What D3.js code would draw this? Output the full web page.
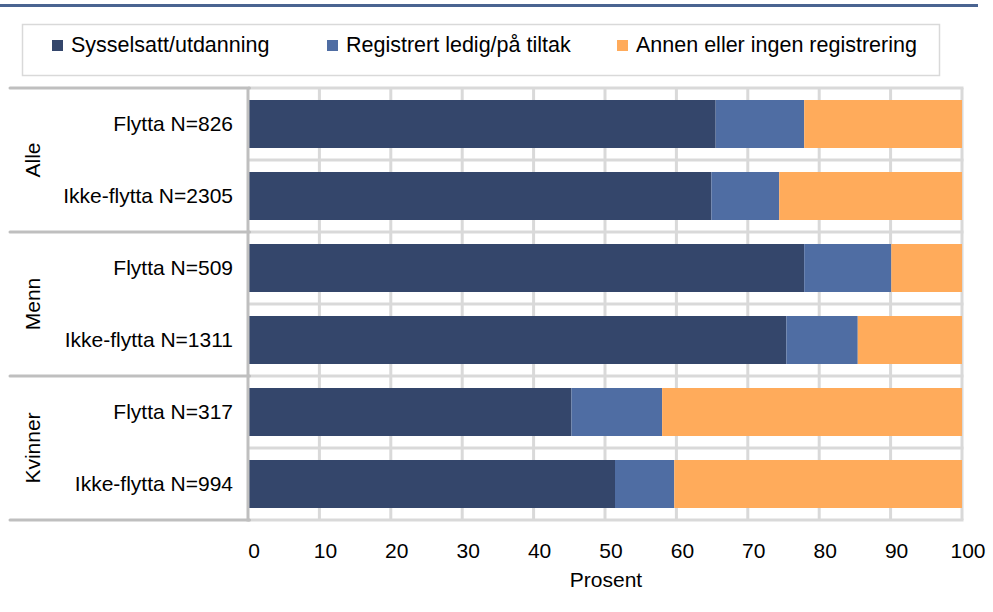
<!DOCTYPE html>
<html>
<head>
<meta charset="utf-8">
<script src="https://cdn.jsdelivr.net/npm/d3@7"></script>
<style>
body { margin: 0; background: #fff; }
text { font-family: "Liberation Sans", Arial, sans-serif; fill: #000; }
</style>
</head>
<body>
<script>
var groups = ["Alle", "Menn", "Kvinner"];
var labels = ["Flytta N=826", "Ikke-flytta N=2305", "Flytta N=509", "Ikke-flytta N=1311", "Flytta N=317", "Ikke-flytta N=994"];
var seriesNames = ["Sysselsatt/utdanning", "Registrert ledig/på tiltak", "Annen eller ingen registrering"];
var sysselsatt = [65.5, 64.9, 77.9, 75.4, 45.3, 51.4];
var ledig = [12.4, 9.5, 12.2, 10.0, 12.7, 8.3];
var annen = [22.1, 25.6, 9.9, 14.6, 42.0, 40.3];
var xTicks = [0, 10, 20, 30, 40, 50, 60, 70, 80, 90, 100];
var colors = ["#34466b", "#4f6da3", "#ffab5b"];

var width = 993, height = 612;
var svg = d3.select("body").append("svg")
	.attr("width", width)
	.attr("height", height);

// top rule
svg.append("rect")
	.attr("x", 0).attr("y", 4)
	.attr("width", 978).attr("height", 3)
	.attr("fill", "#4a6491");

// legend
svg.append("rect")
	.attr("x", 22.5).attr("y", 24.5)
	.attr("width", 917).attr("height", 51)
	.attr("fill", "#fff")
	.attr("stroke", "#d9d9d9")
	.attr("stroke-width", 1.5);

var legendX = [52, 327, 617];
seriesNames.forEach(function(name, i) {
	svg.append("rect")
		.attr("x", legendX[i]).attr("y", 40)
		.attr("width", 11).attr("height", 11)
		.attr("fill", colors[i]);
	svg.append("text")
		.attr("x", legendX[i] + 19).attr("y", 52)
		.attr("font-size", 21.5)
		.text(name);
});

var x = d3.scaleLinear().domain([0, 100]).range([248, 962]);
var y = d3.scaleBand().domain(labels).range([88, 520]).paddingInner(1/3).paddingOuter(1/6);
var yBand = d3.scaleBand().domain(labels).range([88, 520]);
var yGroup = d3.scaleBand().domain(groups).range([88, 520]);

// vertical gridlines
svg.selectAll("line.vgrid")
	.data(xTicks.slice(1))
	.enter().append("line")
		.attr("class", "vgrid")
		.attr("x1", function(d) { return x(d); })
		.attr("x2", function(d) { return x(d); })
		.attr("y1", 88).attr("y2", 520)
		.attr("stroke", "#d9d9d9")
		.attr("stroke-width", 3);

// horizontal gridlines at band edges
var edges = labels.map(function(d) { return yBand(d); }).concat([520]);
svg.selectAll("line.hgrid")
	.data(edges)
	.enter().append("line")
		.attr("class", "hgrid")
		.attr("x1", 248).attr("x2", 963.5)
		.attr("y1", function(d) { return d; })
		.attr("y2", function(d) { return d; })
		.attr("stroke", "#d9d9d9")
		.attr("stroke-width", 3);

// stacked bars
var rows = labels.map(function(l, i) {
	return { label: l, s0: sysselsatt[i], s1: ledig[i], s2: annen[i] };
});
var stack = d3.stack().keys(["s0", "s1", "s2"]);
var layers = stack(rows);

svg.selectAll("g.layer")
	.data(layers)
	.enter().append("g")
		.attr("class", "layer")
		.attr("fill", function(d, i) { return colors[i]; })
	.selectAll("rect")
	.data(function(d) { return d; })
	.enter().append("rect")
		.attr("x", function(d) { return x(d[0]); })
		.attr("width", function(d) { return x(d[1]) - x(d[0]); })
		.attr("y", function(d) { return y(d.data.label); })
		.attr("height", y.bandwidth());

// left axis line and group separators
svg.append("line")
	.attr("x1", 248).attr("x2", 248)
	.attr("y1", 88).attr("y2", 521.5)
	.attr("stroke", "#bfbfbf")
	.attr("stroke-width", 3);

var groupEdges = groups.map(function(g) { return yGroup(g); }).concat([520]);
svg.selectAll("line.gsep")
	.data(groupEdges)
	.enter().append("line")
		.attr("class", "gsep")
		.attr("x1", 10).attr("x2", 249.5)
		.attr("y1", function(d) { return d; })
		.attr("y2", function(d) { return d; })
		.attr("stroke", "#bfbfbf")
		.attr("stroke-width", 3)
		.attr("stroke-linecap", "round");

// category labels
svg.selectAll("text.cat")
	.data(labels)
	.enter().append("text")
		.attr("class", "cat")
		.attr("x", 233)
		.attr("y", function(d) { return yBand(d) + yBand.bandwidth() / 2; })
		.attr("dy", "0.35em")
		.attr("text-anchor", "end")
		.attr("font-size", 21)
		.text(function(d) { return d; });

// group labels
svg.selectAll("text.grp")
	.data(groups)
	.enter().append("text")
		.attr("class", "grp")
		.attr("transform", function(d) {
			return "translate(33," + (yGroup(d) + yGroup.bandwidth() / 2) + ") rotate(-90)";
		})
		.attr("dy", "0.35em")
		.attr("text-anchor", "middle")
		.attr("font-size", 21)
		.text(function(d) { return d; });

// x axis labels
svg.selectAll("text.tick")
	.data(xTicks)
	.enter().append("text")
		.attr("class", "tick")
		.attr("x", function(d) { return x(d) + 6; })
		.attr("y", 558)
		.attr("text-anchor", "middle")
		.attr("font-size", 21)
		.text(function(d) { return d; });

svg.append("text")
	.attr("x", 606).attr("y", 587)
	.attr("text-anchor", "middle")
	.attr("font-size", 21)
	.text("Prosent");
</script>
</body>
</html>
